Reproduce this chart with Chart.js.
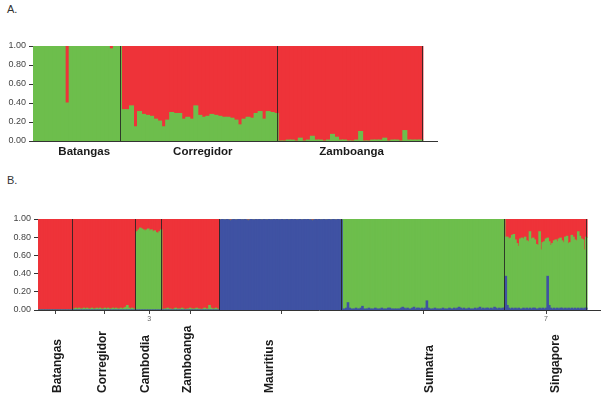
<!DOCTYPE html>
<html><head><meta charset="utf-8">
<script src="https://cdn.jsdelivr.net/npm/chart.js@4.4.1/dist/chart.umd.min.js"></script>
<style>
html,body{margin:0;padding:0;background:#fff;width:612px;height:400px;overflow:hidden;}
#wrapA{position:absolute;left:0;top:0;width:612px;height:170px;}
#wrapB{position:absolute;left:0;top:170px;width:612px;height:230px;}
.panel{position:absolute;left:7px;font:11px "Liberation Sans",Arial,sans-serif;color:#333;line-height:11px;}
</style></head><body>
<div class="panel" style="top:4px">A.</div>
<div class="panel" style="top:175px">B.</div>
<div id="wrapA"><canvas id="cA" width="612" height="170"></canvas></div>
<div id="wrapB"><canvas id="cB" width="612" height="230"></canvas></div>
<script>
// ---------------- DATA ----------------
// Panel A: ancestry proportions (green cluster; red = remainder)
const popsA = ['Batangas', 'Corregidor', 'Zamboanga'];
const greenA_Batangas = [1,1,1,1,1,1,1,1,0.40,1,1,1,1,1,1,1,1,1,1,0.97,1,1];
const greenA_Corregidor = [0.33,0.33,0.37,0.15,0.31,0.28,0.27,0.26,0.23,0.21,
  0.15,0.22,0.30,0.29,0.29,0.23,0.25,0.23,0.37,0.27,
  0.25,0.26,0.28,0.27,0.26,0.25,0.25,0.24,0.22,0.17,
  0.23,0.25,0.24,0.29,0.31,0.23,0.31,0.30,0.29];
const greenA_Zamboanga = [0,0,0.01,0.01,0,0.03,0,0.01,0.05,0.01,
  0.01,0,0.01,0.07,0.04,0.01,0.01,0,0,0.01,
  0.10,0,0,0.01,0.01,0.01,0.03,0,0.01,0.01,
  0,0.11,0.01,0.01,0.01,0.01];

// Panel B: red and blue cluster proportions (green = remainder)
const popsB = ['Batangas', 'Corregidor', 'Cambodia', 'Zamboanga', 'Mauritius', 'Sumatra', 'Singapore'];
const tickLabelsB = ['', '', '3', '', '', '', '7'];

const redB_Batangas = [1,1,1,1,1,1,1,1,1,1,1,1,1,1,1,1,1,1,1,1,1,1];
const blueB_Batangas = [0,0,0,0,0,0,0,0,0,0,0,0,0,0,0,0,0,0,0,0,0,0];

const redB_Corregidor = [0.99,0.98,0.99,0.98,0.99,0.99,0.98,0.99,0.98,0.99,
  0.99,0.98,0.99,0.99,0.98,0.99,0.98,0.99,0.99,0.98,
  0.99,0.98,0.99,0.99,0.98,0.99,0.98,0.99,0.99,0.98,
  0.99,0.98,0.97,0.95,0.98,0.99,0.98,0.99,1.00];
const blueB_Corregidor = [0,0,0,0,0,0,0,0,0,0,0,0,0,0,0,0,0,0,0,0,
  0,0,0,0,0,0,0,0,0,0,0,0,0,0,0,0,0,0,0];

const redB_Cambodia = [0.14,0.12,0.10,0.11,0.12,0.13,0.12,0.11,0.13,0.12,0.14,0.13,0.15,0.16,0.14,0.12];
const blueB_Cambodia = [0,0,0,0,0,0,0,0,0,0,0,0,0,0,0,0];

const redB_Zamboanga = [1.00,0.99,0.99,0.98,0.99,0.99,1.00,0.99,0.98,0.99,
  0.99,0.99,0.98,0.99,1.00,0.99,0.99,0.98,0.99,0.99,
  0.99,0.98,0.99,0.99,1.00,0.99,0.98,0.99,0.99,0.95,
  0.98,0.99,0.99,0.98,0.99,1.00];
const blueB_Zamboanga = [0,0,0,0,0,0,0,0,0,0,0,0,0,0,0,0,0,0,
  0,0,0,0,0,0,0,0,0,0,0,0,0,0,0,0,0,0];

const redB_Mauritius = [0.01,0.00,0.01,0.01,0.00,0.01,0.02,0.01,0.00,0.01,
  0.01,0.00,0.00,0.01,0.01,0.00,0.01,0.02,0.01,0.00,
  0.01,0.01,0.00,0.01,0.00,0.01,0.01,0.00,0.01,0.01,
  0.00,0.01,0.01,0.00,0.01,0.00,0.01,0.01,0.00,0.01,
  0.01,0.00,0.01,0.01,0.00,0.01,0.00,0.01,0.01,0.00,
  0.01,0.01,0.00,0.01,0.00,0.01,0.01,0.02,0.01,0.00,
  0.01,0.00,0.01,0.01,0.00,0.01,0.01,0.00,0.01,0.01,
  0.00,0.01,0.01,0.00,0.01,0.01];
const blueB_Mauritius = [0.99,1.00,0.99,0.99,1.00,0.99,0.98,0.99,1.00,0.99,
  0.99,1.00,1.00,0.99,0.99,1.00,0.99,0.98,0.99,1.00,
  0.99,0.99,1.00,0.99,1.00,0.99,0.99,1.00,0.99,0.99,
  1.00,0.99,0.99,1.00,0.99,1.00,0.99,0.99,1.00,0.99,
  0.99,1.00,0.99,0.99,1.00,0.99,1.00,0.99,0.99,1.00,
  0.99,0.99,1.00,0.99,1.00,0.99,0.99,0.98,0.99,1.00,
  0.99,1.00,0.99,0.99,1.00,0.99,0.99,1.00,0.99,0.99,
  1.00,0.99,0.99,1.00,0.99,0.99];

const redB_Sumatra = [0,0,0,0,0,0,0,0,0,0, 0,0,0,0,0,0,0,0,0,0,
  0,0,0,0,0,0,0,0,0,0, 0,0,0,0,0,0,0,0,0,0,
  0,0,0,0,0,0,0,0,0,0, 0,0,0,0,0,0,0,0,0,0,
  0,0,0,0,0,0,0,0,0,0, 0,0,0,0,0,0,0,0,0,0,
  0,0,0,0,0,0,0,0,0,0, 0,0,0,0,0,0,0,0,0,0, 0];
const blueB_Sumatra = [0.01,0.01,0.02,0.08,0.02,0.01,0.01,0.01,0.02,0.01,
  0.01,0.02,0.04,0.01,0.01,0.01,0.02,0.01,0.01,0.01,
  0.02,0.01,0.01,0.01,0.02,0.01,0.01,0.01,0.02,0.02,
  0.01,0.01,0.01,0.01,0.01,0.01,0.02,0.03,0.02,0.01,
  0.02,0.01,0.01,0.02,0.03,0.01,0.02,0.02,0.01,0.02,
  0.01,0.02,0.10,0.02,0.01,0.01,0.01,0.02,0.01,0.01,
  0.01,0.01,0.02,0.01,0.01,0.01,0.02,0.01,0.01,0.02,
  0.01,0.02,0.03,0.02,0.01,0.02,0.01,0.01,0.02,0.01,
  0.01,0.01,0.02,0.01,0.02,0.03,0.01,0.02,0.01,0.02,
  0.02,0.01,0.02,0.01,0.03,0.02,0.01,0.02,0.01,0.02,
  0.02];

const redB_Singapore = [0.20,0.20,0.22,0.21,0.18,0.17,0.23,0.27,0.30,0.22,
  0.21,0.22,0.20,0.24,0.25,0.14,0.22,0.21,0.23,0.28,
  0.29,0.14,0.34,0.26,0.25,0.22,0.21,0.25,0.29,0.27,
  0.24,0.23,0.25,0.22,0.21,0.24,0.26,0.20,0.19,0.27,
  0.26,0.18,0.20,0.23,0.24,0.14,0.19,0.22,0.23,0.34,
  0.20];
const blueB_Singapore = [0.37,0.05,0.02,0.01,0.02,0.01,0.02,0.01,0.02,0.01,
  0.01,0.02,0.01,0.02,0.01,0.02,0.01,0.02,0.02,0.01,
  0.01,0.02,0.01,0.02,0.01,0.02,0.37,0.05,0.02,0.01,
  0.02,0.01,0.02,0.01,0.02,0.02,0.01,0.02,0.01,0.02,
  0.01,0.02,0.01,0.02,0.01,0.02,0.01,0.02,0.01,0.02,
  0.02];

// ---------------- STYLE ----------------
const RED = '#ee3339', GREEN = '#6dbe4c', BLUE = '#3f52a3';
const FONT = '"Liberation Sans", Arial, sans-serif';
Chart.defaults.font.family = FONT;

// ---------------- BUILD ----------------
const greenA = [].concat(greenA_Batangas, greenA_Corregidor, greenA_Zamboanga);
const redA = greenA.map(g => Math.max(0, +(1 - g).toFixed(4)));
const countsA = [greenA_Batangas.length, greenA_Corregidor.length, greenA_Zamboanga.length];
const xA = greenA.map((_, i) => i + 0.5);

const redB = [].concat(redB_Batangas, redB_Corregidor, redB_Cambodia, redB_Zamboanga, redB_Mauritius, redB_Sumatra, redB_Singapore);
const blueB = [].concat(blueB_Batangas, blueB_Corregidor, blueB_Cambodia, blueB_Zamboanga, blueB_Mauritius, blueB_Sumatra, blueB_Singapore);
const greenB = redB.map((r, i) => Math.max(0, +(1 - r - blueB[i]).toFixed(4)));
const countsB = [redB_Batangas.length, redB_Corregidor.length, redB_Cambodia.length, redB_Zamboanga.length, redB_Mauritius.length, redB_Sumatra.length, redB_Singapore.length];
const xB = redB.map((_, i) => i + 0.5);
const centresB = [];
{ let s = 0; countsB.forEach(n => { centresB.push(s + n / 2); s += n; }); }

const groupPlugin = {
  id: 'groups',
  afterDatasetsDraw(chart, args, opts) {
    const x = chart.scales.x, ca = chart.chartArea, ctx = chart.ctx;
    ctx.save();
    ctx.strokeStyle = opts.lineColor;
    ctx.lineWidth = 1;
    let cum = 0;
    opts.counts.forEach(n => {
      cum += n;
      const px = Math.round(x.getPixelForValue(cum)) - 0.5;
      ctx.beginPath(); ctx.moveTo(px, ca.top); ctx.lineTo(px, ca.bottom); ctx.stroke();
    });
    ctx.restore();
  },
  afterDraw(chart, args, opts) {
    const x = chart.scales.x, ctx = chart.ctx;
    ctx.save();
    ctx.fillStyle = opts.labelColor;
    ctx.font = opts.font;
    let start = 0;
    opts.names.forEach((name, i) => {
      const n = opts.counts[i];
      const cx = x.getPixelForValue(start + n / 2) + (opts.shift ? opts.shift[i] : 0);
      start += n;
      if (opts.rotate) {
        ctx.save();
        ctx.translate(cx, opts.labelY);
        ctx.rotate(-Math.PI / 2);
        ctx.textAlign = 'left'; ctx.textBaseline = 'middle';
        ctx.fillText(name, 0, 0);
        ctx.restore();
      } else {
        ctx.textAlign = 'center'; ctx.textBaseline = 'middle';
        ctx.fillText(name, cx, opts.labelY);
      }
    });
    ctx.restore();
  }
};

function yAxis(width) {
  return {
    stacked: true, min: 0, max: 1,
    afterFit: s => { s.width = width; },
    ticks: { stepSize: 0.2, callback: v => Number(v).toFixed(2), font: { size: 9 }, color: '#444', padding: 3 },
    grid: { drawOnChartArea: false, drawTicks: true, tickLength: 4, color: '#333' },
    border: { color: '#333', width: 1 }
  };
}

const barBase = { barPercentage: 1, categoryPercentage: 1, borderWidth: 0, inflateAmount: 0.5 };

new Chart(document.getElementById('cA'), {
  type: 'bar',
  data: {
    labels: xA,
    datasets: [
      Object.assign({ label: 'green', data: greenA, backgroundColor: GREEN }, barBase),
      Object.assign({ label: 'red', data: redA, backgroundColor: RED }, barBase)
    ]
  },
  options: {
    responsive: false, animation: false, devicePixelRatio: 1, events: [],
    layout: { padding: { top: 46, right: 175, left: 0, bottom: 0 } },
    scales: {
      x: {
        type: 'linear', stacked: true, min: 0, max: 100.5, offset: false,
        afterFit: s => { s.height = 29; },
        ticks: { display: false },
        grid: { display: true, offset: false, drawOnChartArea: false, drawTicks: false },
        border: { color: '#333', width: 1 }
      },
      y: yAxis(33)
    },
    plugins: {
      legend: { display: false }, tooltip: { enabled: false },
      groups: { counts: countsA, names: popsA, lineColor: 'rgba(35,35,35,0.85)', labelColor: '#1a1a1a',
        font: 'bold 11.5px ' + FONT, labelY: 152, rotate: false, shift: [7, 3, 1] }
    }
  },
  plugins: [groupPlugin]
});

new Chart(document.getElementById('cB'), {
  type: 'bar',
  data: {
    labels: xB,
    datasets: [
      Object.assign({ label: 'blue', data: blueB, backgroundColor: BLUE }, barBase),
      Object.assign({ label: 'green', data: greenB, backgroundColor: GREEN }, barBase),
      Object.assign({ label: 'red', data: redB, backgroundColor: RED }, barBase)
    ]
  },
  options: {
    responsive: false, animation: false, devicePixelRatio: 1, events: [],
    layout: { padding: { top: 49, right: 12, left: 0, bottom: 0 } },
    scales: {
      x: {
        type: 'linear', stacked: true, min: 0, max: 349, offset: false,
        afterFit: s => { s.height = 90; },
        afterBuildTicks: s => { s.ticks = centresB.map(v => ({ value: v })); },
        ticks: { autoSkip: false, maxRotation: 0, minRotation: 0, padding: 1,
          font: { size: 7 }, color: '#666', callback: (v, i) => tickLabelsB[i] },
        grid: { offset: false, drawOnChartArea: false, drawTicks: true, tickLength: 4, color: '#444' },
        border: { color: '#333', width: 1 }
      },
      y: yAxis(38)
    },
    plugins: {
      legend: { display: false }, tooltip: { enabled: false },
      groups: { counts: countsB, names: popsB, lineColor: 'rgba(35,35,35,0.85)', labelColor: '#1a1a1a',
        font: 'bold 12px ' + FONT, labelY: 223, rotate: true, shift: [2, -2, -3, -3, -11, 6, 10] }
    }
  },
  plugins: [groupPlugin]
});
</script>
</body></html>
